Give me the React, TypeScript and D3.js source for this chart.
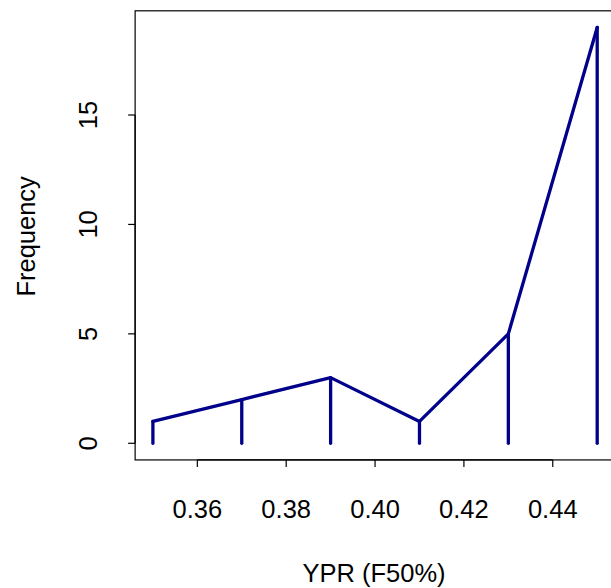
import React from "react";
import * as d3 from "d3";

const xValues = [0.35, 0.37, 0.39, 0.41, 0.43, 0.45];
const freqValues = [1, 2, 3, 1, 5, 19];
const xTicks = [0.36, 0.38, 0.4, 0.42, 0.44];
const yTicks = [0, 5, 10, 15];
const xTitle = "YPR (F50%)";
const yTitle = "Frequency";

export default function App() {
  const W = 611, H = 588;
  const x = d3.scaleLinear().domain([0.35, 0.45]).range([152.9, 597.2]);
  const y = d3.scaleLinear().domain([0, 15]).range([443.3, 115]);
  const x0 = x(0.346), x1 = x(0.454);
  const y0 = y(-0.76), y1 = y(19.76);
  const pts = xValues.map((v, i) => [x(v), y(freqValues[i])] as [number, number]);
  const line = d3.line()(pts) as string;
  const font = "Liberation Sans, Arial, sans-serif";
  const fs = 25.5;
  const color = "#00008B";
  return (
    <svg width={W} height={H} style={{ position: "absolute", left: 0, top: 0 }}>
      <rect width={W} height={H} fill="white" />
      <g fill="none" stroke={color} strokeWidth={3.3} strokeLinecap="round" strokeLinejoin="round">
        {pts.map((p, i) => (
          <line key={i} x1={p[0]} x2={p[0]} y1={y(0)} y2={p[1]} />
        ))}
        <path d={line} />
      </g>
      <rect x={x0} y={y1} width={x1 - x0} height={y0 - y1} fill="none" stroke="black" strokeWidth={1.2} />
      <line x1={x(xTicks[0])} x2={x(xTicks[xTicks.length - 1])} y1={y0} y2={y0} stroke="black" strokeWidth={1.2} />
      {xTicks.map((t) => (
        <g key={t}>
          <line x1={x(t)} x2={x(t)} y1={y0} y2={y0 + 7} stroke="black" strokeWidth={1.2} />
          <text x={x(t)} y={518} textAnchor="middle" fontFamily={font} fontSize={fs}>
            {t.toFixed(2)}
          </text>
        </g>
      ))}
      <line x1={x0} x2={x0} y1={y(0)} y2={y(15)} stroke="black" strokeWidth={1.2} />
      {yTicks.map((t) => (
        <g key={t}>
          <line x1={x0 - 7} x2={x0} y1={y(t)} y2={y(t)} stroke="black" strokeWidth={1.2} />
          <text transform={`translate(96.5,${y(t)}) rotate(-90)`} textAnchor="middle" fontFamily={font} fontSize={fs}>
            {t}
          </text>
        </g>
      ))}
      <text x={(x0 + x1) / 2 - 1} y={581.5} textAnchor="middle" fontFamily={font} fontSize={fs}>
        {xTitle}
      </text>
      <text transform={`translate(35,${(y0 + y1) / 2 + 1}) rotate(-90)`} textAnchor="middle" fontFamily={font} fontSize={fs}>
        {yTitle}
      </text>
    </svg>
  );
}
